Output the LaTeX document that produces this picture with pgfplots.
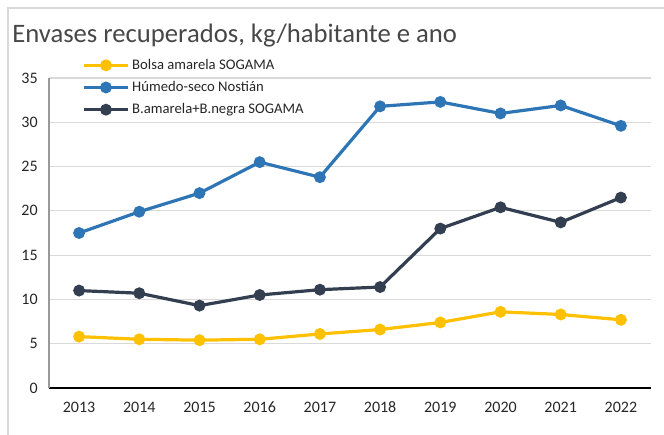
\documentclass[border=0pt]{standalone}
\usepackage{fontspec}
\setmainfont{Carlito}
\usepackage{pgfplots}
\pgfplotsset{compat=1.18}
\definecolor{cyel}{HTML}{FFC000}
\definecolor{cblu}{HTML}{2E75B6}
\definecolor{cdrk}{HTML}{333F50}
\definecolor{cgrid}{HTML}{D9D9D9}
\definecolor{ctxt}{HTML}{262626}
\begin{document}
\begin{tikzpicture}
\path[use as bounding box] (0,0) rectangle (498pt,326.25pt);
\draw[cgrid, line width=0.8pt] (6pt,0) -- (6pt,320.25pt) -- (498pt,320.25pt);
\node[anchor=base west, inner sep=0pt, text=ctxt!85, font=\fontsize{20}{22}\selectfont] at (9pt,294pt) {Envases recuperados, kg/habitante e ano};
\begin{axis}[
  at={(36.75pt,35.25pt)}, anchor=south west,
  scale only axis, width=451.5pt, height=232.5pt,
  xmin=-0.5, xmax=9.5, ymin=0, ymax=35,
  xtick={0,...,9},
  xticklabels={2013,2014,2015,2016,2017,2018,2019,2020,2021,2022},
  ytick={0,5,...,35},
  axis x line*=bottom, axis y line*=left,
  x axis line style={black, line width=0.9pt, -},
  y axis line style={gray!80, line width=0.8pt, -},
  major tick length=0pt,
  ymajorgrids, grid style={cgrid, line width=0.9pt},
  tick label style={font=\fontsize{12}{13}\selectfont, text=ctxt},
  /pgf/number format/assume math mode=true,
  xticklabel style={yshift=-7pt},
  yticklabel style={xshift=-5pt},
  every axis plot/.append style={line width=2.4pt, mark=*, mark size=3.2pt},
  legend style={at={(axis description cs:0.055,1.07)}, anchor=north west, draw=none, fill=none,
    font=\fontsize{11}{13}\selectfont, text=ctxt, row sep=3.5pt, inner sep=0pt},
  legend cell align=left,
  legend image code/.code={
    \draw[#1, line width=2.4pt] (0pt,0pt) -- (33pt,0pt);
    \draw[#1, mark options={solid}] plot[mark=*, mark size=3.2pt] coordinates {(16.5pt,0pt)};
  },
]
\addplot[cyel, mark options={fill=cyel, draw=cyel}] coordinates {
(0,5.8) (1,5.5) (2,5.4) (3,5.5) (4,6.1) (5,6.6) (6,7.4) (7,8.6) (8,8.3) (9,7.7)};
\addlegendentry{Bolsa amarela SOGAMA}
\addplot[cblu, mark options={fill=cblu, draw=cblu}] coordinates {
(0,17.5) (1,19.9) (2,22.0) (3,25.5) (4,23.8) (5,31.8) (6,32.3) (7,31.0) (8,31.9) (9,29.6)};
\addlegendentry{Húmedo-seco Nostián}
\addplot[cdrk, mark options={fill=cdrk, draw=cdrk}] coordinates {
(0,11.0) (1,10.7) (2,9.3) (3,10.5) (4,11.1) (5,11.4) (6,18.0) (7,20.4) (8,18.7) (9,21.5)};
\addlegendentry{B.amarela+B.negra SOGAMA}
\end{axis}
\end{tikzpicture}
\end{document}
